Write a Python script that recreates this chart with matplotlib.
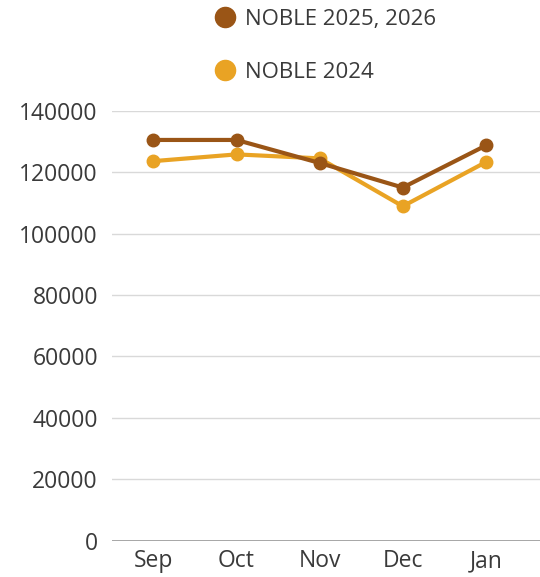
import matplotlib
matplotlib.use("Agg")
import matplotlib.pyplot as plt
from matplotlib.lines import Line2D

# data
months = ["Sep", "Oct", "Nov", "Dec", "Jan"]
noble_2025_2026 = [130500, 130500, 123000, 115000, 128700]
noble_2024 = [123600, 125800, 124500, 108900, 123300]
yticks = [0, 20000, 40000, 60000, 80000, 100000, 120000, 140000]

dark = "#9A5516"
light = "#E9A324"
text_col = "#3a3a3a"

plt.rcParams["font.family"] = ["Open Sans", "DejaVu Sans"]

fig = plt.figure(figsize=(5.4, 5.77), dpi=100)
ax = fig.add_axes([0.207, 0.063, 0.793, 0.745])

x = range(len(months))
ax.plot(x, noble_2024, color=light, lw=3, marker="o", ms=9, clip_on=False, zorder=3)
ax.plot(x, noble_2025_2026, color=dark, lw=3, marker="o", ms=9, clip_on=False, zorder=4)

ax.set_xlim(-0.5, 4.65)
ax.set_ylim(0, 140000)
ax.set_yticks(yticks)
ax.set_yticklabels([str(v) for v in yticks])
ax.set_xticks(list(x))
ax.set_xticklabels(months)
ax.tick_params(axis="both", length=0, labelsize=16.5, colors=text_col)
ax.tick_params(axis="y", pad=10)
ax.tick_params(axis="x", pad=6)

for s in ax.spines.values():
    s.set_visible(False)
ax.yaxis.grid(True, color="#d9d9d9", lw=1)
ax.set_axisbelow(True)
ax.axhline(0, color="#999999", lw=1.2, zorder=1)

handles = [Line2D([], [], color=dark, marker="o", ls="none", ms=14.5),
           Line2D([], [], color=light, marker="o", ls="none", ms=14.5)]
fig.legend(handles, ["NOBLE 2025, 2026", "NOBLE 2024"],
           loc="upper left", bbox_to_anchor=(0.396, 0.984), frameon=False,
           fontsize=16, labelspacing=1.44, handlelength=1.0, handletextpad=0.41,
           borderpad=0, borderaxespad=0, labelcolor=text_col)

fig.savefig("out.png", dpi=100)
